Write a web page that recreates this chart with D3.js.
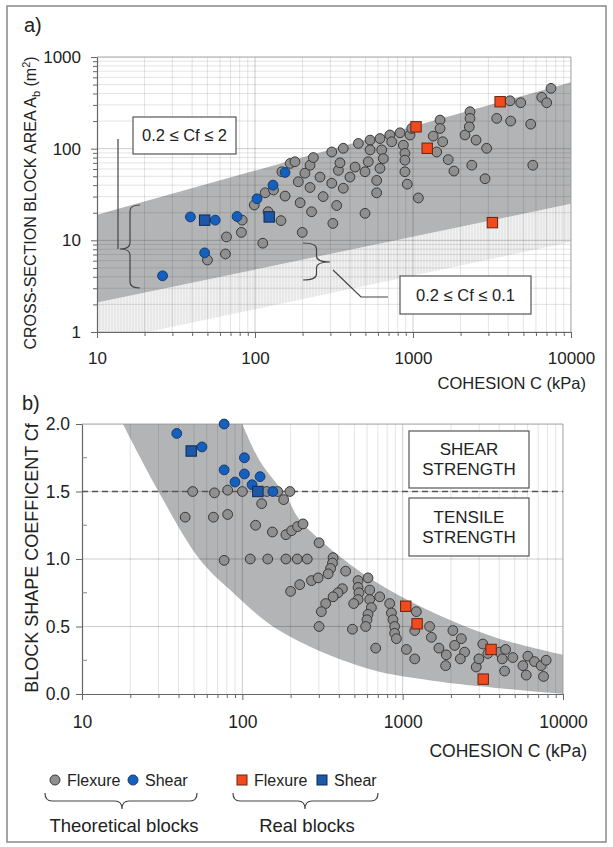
<!DOCTYPE html>
<html>
<head>
<meta charset="utf-8">
<script src="https://cdn.jsdelivr.net/npm/d3@7"></script>
<style>
body { margin: 0; background: #fff; }
svg { font-family: "Liberation Sans", Arial, sans-serif; }
</style>
</head>
<body>
<svg id="fig" width="613" height="847"></svg>
<script>
// ---- data: panel a) cohesion C (kPa) vs cross-section area Ab (m2)
const topTheoFlexure = [
  [50,6.1],[65,7.1],[66,10.9],[82,12.2],[83,16.6],[112,9.3],[99,24.3],[116,33],[121,20.5],[146,16.4],
  [155,30.4],[193,25.7],[199,12.2],[131,35.4],[148,56],[167,69],[179,72],[188,43.6],[207,54],[223,66],
  [234,80],[228,20.5],[223,37.7],[258,49],[270,30],[306,42],[306,92],[329,24],[311,15.3],[337,58],
  [345,70],[362,101],[362,37],[399,49],[430,63],[451,114],[497,56],[497,19.7],[521,72],[535,124],
  [535,97],[589,33],[589,45],[618,129],[714,141],[733,119],[828,149],[869,109],[957,141],[981,166],
  [634,97],[649,78],[618,61],[889,89],[889,75],[889,56],[920,41],[1081,29],[1343,137],[1483,205],
  [1483,166],[1541,119],[1413,92],[1671,76],[1816,57],[2133,141],[2295,253],[2295,214],[2271,173],[2506,124],
  [2356,66],[2925,101],[2857,47],[3389,214],[4111,333],[4806,317],[4150,200],[5560,185],[5730,66],[6530,363],
  [7020,317],[7470,455]
];
const topTheoShear = [[39,18],[56,16.6],[77,18.2],[48,7.3],[26,4.1],[103,28.4],[130,40],[155,55]];
const topRealFlexure = [[1045,173],[1230,101],[3560,325],[3180,15.6]];
const topRealShear = [[48,16.6],[123,18]];

// band limits of panel a)  [C, Ab]
const bandCf02to2Upper = [[10,19],[10000,530]];
const bandCf02to2Lower = [[10,2.1],[10000,25]];
const bandCf01Lower = [[10,1],[21,1],[10000,9.6]];

// ---- data: panel b) cohesion C (kPa) vs block shape coefficient Cf
const botTheoFlexure = [
  [49,1.50],[67,1.49],[81,1.51],[100,1.50],[142,1.50],[166,1.50],[198,1.50],[132,1.41],[181,1.44],[44,1.31],
  [66,1.31],[81,1.33],[121,1.25],[154,1.20],[187,1.18],[203,1.21],[221,1.24],[239,1.26],[77,0.99],[112,1.0],
  [144,1.0],[187,1.0],[220,1.0],[254,1.0],[200,0.76],[301,1.12],[368,1.01],[365,0.97],[355,0.93],[343,0.89],
  [441,0.91],[270,0.84],[297,0.86],[527,0.84],[608,0.86],[527,0.79],[534,0.75],[527,0.70],[495,0.67],[623,0.77],
  [623,0.70],[638,0.64],[608,0.59],[599,0.55],[588,0.50],[228,0.81],[421,0.78],[395,0.75],[368,0.72],[331,0.67],
  [311,0.61],[301,0.50],[486,0.48],[719,0.72],[830,0.67],[851,0.60],[870,0.55],[891,0.50],[891,0.45],[914,0.41],
  [1217,0.61],[1189,0.47],[1472,0.50],[1510,0.42],[679,0.34],[1055,0.33],[1189,0.26],[2057,0.47],[2322,0.41],[2109,0.36],
  [1683,0.34],[1871,0.29],[1853,0.21],[2434,0.31],[2289,0.26],[2877,0.20],[2988,0.26],[3163,0.37],[3398,0.30],[4019,0.31],
  [4385,0.33],[4179,0.26],[4866,0.27],[4323,0.17],[5620,0.21],[6040,0.28],[5900,0.14],[6640,0.24],[7310,0.21],[7850,0.25],
  [7560,0.13]
];
const botTheoShear = [[39,1.93],[77,2.0],[56,1.83],[103,1.75],[77,1.66],[103,1.63],[90,1.57],[115,1.55],[129,1.61],[155,1.50]];
const botRealFlexure = [[1045,0.65],[1230,0.52],[3560,0.33],[3180,0.11]];
const botRealShear = [[48,1.80],[125,1.50]];

// band limits of panel b)  [C, Cf]
const bandBotUpper = [[100,2.0],[128,1.73],[189,1.46],[228,1.29],[470,0.96],[950,0.73],[1960,0.55],[4000,0.41],[10000,0.29]];
const bandBotLower = [[18,2.0],[30,1.5],[54,1.0],[84,0.77],[170,0.47],[560,0.2],[1500,0.1],[10000,0.0]];

const failureLimitCf = 1.5;

// ---- styles
const C_GRAY = "#8f8f8f", C_BLUE = "#1560bd", C_ORANGE = "#f04a1f", C_BAND = "#b3b4b6";

const svg = d3.select("#fig");
const defs = svg.append("defs");

const hatch = defs.append("pattern").attr("id", "hatch")
  .attr("patternUnits", "userSpaceOnUse").attr("width", 3).attr("height", 3);
hatch.append("rect").attr("width", 3).attr("height", 3).attr("fill", "#f2f2f2");
hatch.append("line").attr("x1", 1).attr("x2", 1).attr("y1", 0).attr("y2", 3)
  .attr("stroke", "#dedede").attr("stroke-width", 1);

// outer frame
svg.append("rect").attr("x", 7).attr("y", 6).attr("width", 599).attr("height", 836)
  .attr("fill", "none").attr("stroke", "#888").attr("stroke-width", 1.5);

function logMinor(lo, hi) {
  const v = [];
  for (let d = lo; d < hi; d *= 10) for (let k = 1; k < 10; k++) v.push(d * k);
  v.push(hi);
  return v;
}
function isMajor(v) {
  const l = Math.log10(v);
  return Math.abs(l - Math.round(l)) < 1e-6;
}

function drawPoints(g, data, x, y, kind, color, size) {
  if (kind === "circle") {
    g.append("g").selectAll("circle").data(data).join("circle")
      .attr("cx", d => x(d[0])).attr("cy", d => y(d[1])).attr("r", size)
      .attr("fill", color).attr("stroke", color === C_GRAY ? "#383838" : "#173a6e").attr("stroke-width", 1);
  } else {
    g.append("g").selectAll("rect").data(data).join("rect")
      .attr("x", d => x(d[0]) - size).attr("y", d => y(d[1]) - size)
      .attr("width", size * 2).attr("height", size * 2)
      .attr("fill", color).attr("stroke", color === C_ORANGE ? "#6b2410" : "#0f2a55").attr("stroke-width", 1);
  }
}

function styleAxis(g) {
  g.select(".domain").attr("stroke", "#666").attr("stroke-width", 1.2);
  g.selectAll(".tick line").attr("stroke", "#666");
  g.selectAll(".tick text").attr("fill", "#222").attr("font-family", "Liberation Sans, Arial, sans-serif");
}

// ================= panel a)
const xTop = d3.scaleLog().domain([10, 10000]).range([97, 571]);
const yTop = d3.scaleLog().domain([1, 1000]).range([332, 57]);

defs.append("clipPath").attr("id", "clipTop").append("rect")
  .attr("x", 97).attr("y", 57).attr("width", 474).attr("height", 275);

const gTop = svg.append("g");
const gTopPlot = gTop.append("g").attr("clip-path", "url(#clipTop)");

const lineTop = d3.line().x(d => xTop(d[0])).y(d => yTop(d[1]));
// light band 0.2 <= Cf <= 0.1 (below the wide band)
gTopPlot.append("path")
  .attr("d", lineTop(bandCf02to2Lower.concat(bandCf01Lower.slice().reverse())) + "Z")
  .attr("fill", "url(#hatch)");
// dark band 0.2 <= Cf <= 2
gTopPlot.append("path")
  .attr("d", lineTop(bandCf02to2Upper.concat(bandCf02to2Lower.slice().reverse())) + "Z")
  .attr("fill", C_BAND);

// grid
const xGridVals = logMinor(10, 10000);
const yGridVals = logMinor(1, 1000);
gTopPlot.append("g").selectAll("line").data(xGridVals).join("line")
  .attr("x1", d => xTop(d)).attr("x2", d => xTop(d)).attr("y1", 57).attr("y2", 332)
  .attr("stroke", "#000").attr("stroke-opacity", d => isMajor(d) ? 0.2 : 0.11);
gTopPlot.append("g").selectAll("line").data(yGridVals).join("line")
  .attr("y1", d => yTop(d)).attr("y2", d => yTop(d)).attr("x1", 97).attr("x2", 571)
  .attr("stroke", "#000").attr("stroke-opacity", d => isMajor(d) ? 0.2 : 0.11);

gTop.append("path").attr("d", "M97,57H571V332").attr("fill", "none").attr("stroke", "#aaa");

const axTopX = gTop.append("g").attr("transform", `translate(0,${yTop(1)})`)
  .call(d3.axisBottom(xTop).tickValues(xGridVals)
    .tickFormat(d => isMajor(d) ? d3.format("d")(d) : "").tickSizeOuter(0).tickPadding(14));
axTopX.selectAll(".tick line").attr("y2", d => isMajor(d) ? 6 : 4);
axTopX.selectAll(".tick text").attr("font-size", 17);
styleAxis(axTopX);

const axTopY = gTop.append("g").attr("transform", `translate(${xTop(10)},0)`)
  .call(d3.axisLeft(yTop).tickValues(yGridVals)
    .tickFormat(d => isMajor(d) ? d3.format("d")(d) : "").tickSizeOuter(0).tickPadding(10));
axTopY.selectAll(".tick line").attr("x2", d => isMajor(d) ? -6 : -4);
axTopY.selectAll(".tick text").attr("font-size", 17);
styleAxis(axTopY);

drawPoints(gTop, topTheoFlexure, xTop, yTop, "circle", C_GRAY, 4.9);
drawPoints(gTop, topTheoShear, xTop, yTop, "circle", C_BLUE, 4.9);
drawPoints(gTop, topRealShear, xTop, yTop, "square", "#1d57a8", 5.2);
drawPoints(gTop, topRealFlexure, xTop, yTop, "square", C_ORANGE, 5.2);

// annotations panel a)
function vBrace(xa, y1, y2, xt, yt) {
  const xm = (xa + xt) / 2, r = 6;
  return `M${xa},${y1} Q${xm},${y1} ${xm},${y1 + r} L${xm},${yt - r} Q${xm},${yt} ${xt},${yt}` +
         ` Q${xm},${yt} ${xm},${yt + r} L${xm},${y2 - r} Q${xm},${y2} ${xa},${y2}`;
}
function hBrace(x1, x2, ya, xt, yt) {
  const ym = (ya + yt) / 2, r = 7;
  return `M${x1},${ya} Q${x1},${ym} ${x1 + r},${ym} L${xt - r},${ym} Q${xt},${ym} ${xt},${yt}` +
         ` Q${xt},${ym} ${xt + r},${ym} L${x2 - r},${ym} Q${x2},${ym} ${x2},${ya}`;
}
const ann = svg.append("g").attr("fill", "none").attr("stroke", "#444").attr("stroke-width", 1.2);
ann.append("path").attr("d", vBrace(140, 205, 288, 120, 249));
ann.append("path").attr("d", "M118,139V249");
ann.append("path").attr("d", vBrace(303, 243, 280, 330, 262));
ann.append("path").attr("d", "M333,270L361,297H388");

function labelBox(x, y, w, h, lines, fs) {
  svg.append("rect").attr("x", x).attr("y", y).attr("width", w).attr("height", h)
    .attr("fill", "#fff").attr("stroke", "#555").attr("stroke-width", 1.2);
  const lh = fs * 1.18;
  lines.forEach((t, i) => {
    svg.append("text").attr("x", x + w / 2)
      .attr("y", y + h / 2 + (i - (lines.length - 1) / 2) * lh)
      .attr("dy", "0.35em").attr("text-anchor", "middle").attr("font-size", fs).attr("fill", "#222").text(t);
  });
}
labelBox(133, 117, 103, 37, ["0.2 \u2264 Cf \u2264 2"], 16.5);
labelBox(400, 276, 131, 38, ["0.2 \u2264 Cf \u2264 0.1"], 16.5);

svg.append("text").attr("x", 24).attr("y", 32).attr("font-size", 20).attr("fill", "#222").text("a)");

const yLabTop = svg.append("text").attr("transform", "translate(36,203) rotate(-90)")
  .attr("text-anchor", "middle").attr("font-size", 16).attr("fill", "#222");
yLabTop.append("tspan").text("CROSS-SECTION BLOCK AREA A");
yLabTop.append("tspan").attr("font-size", 11).attr("dy", 4).text("b");
yLabTop.append("tspan").attr("dy", -4).text(" (m");
yLabTop.append("tspan").attr("font-size", 11).attr("dy", -6).text("2");
yLabTop.append("tspan").attr("dy", 6).text(")");

svg.append("text").attr("x", 586).attr("y", 389).attr("text-anchor", "end")
  .attr("font-size", 16.5).attr("fill", "#222").text("COHESION C (kPa)");

// ================= panel b)
const xBot = d3.scaleLog().domain([10, 10000]).range([82, 563]);
const yBot = d3.scaleLinear().domain([0, 2]).range([694, 424]);

defs.append("clipPath").attr("id", "clipBot").append("rect")
  .attr("x", 82).attr("y", 424).attr("width", 481).attr("height", 270);

const gBot = svg.append("g");
const gBotPlot = gBot.append("g").attr("clip-path", "url(#clipBot)");

const lineBot = d3.line().x(d => xBot(d[0])).y(d => yBot(d[1])).curve(d3.curveCatmullRom);
const bandPath = lineBot(bandBotUpper) + "L" + lineBot(bandBotLower.slice().reverse()).slice(1) + "Z";
gBotPlot.append("path").attr("d", bandPath).attr("fill", C_BAND);

gBotPlot.append("g").selectAll("line").data(xGridVals).join("line")
  .attr("x1", d => xBot(d)).attr("x2", d => xBot(d)).attr("y1", 424).attr("y2", 694)
  .attr("stroke", "#000").attr("stroke-opacity", d => isMajor(d) ? 0.2 : 0.11);
gBotPlot.append("g").selectAll("line").data([0.5, 1, 1.5, 2]).join("line")
  .attr("y1", d => yBot(d)).attr("y2", d => yBot(d)).attr("x1", 82).attr("x2", 563)
  .attr("stroke", "#000").attr("stroke-opacity", 0.2);

gBot.append("path").attr("d", "M82,424H563V694").attr("fill", "none").attr("stroke", "#aaa");

const axBotX = gBot.append("g").attr("transform", `translate(0,${yBot(0)})`)
  .call(d3.axisBottom(xBot).tickValues(xGridVals)
    .tickFormat(d => isMajor(d) ? d3.format("d")(d) : "").tickSizeOuter(0).tickPadding(16));
axBotX.selectAll(".tick line").attr("y2", d => isMajor(d) ? 6 : 4);
axBotX.selectAll(".tick text").attr("font-size", 17.5);
styleAxis(axBotX);

const axBotY = gBot.append("g").attr("transform", `translate(${xBot(10)},0)`)
  .call(d3.axisLeft(yBot).tickValues([0, 0.5, 1, 1.5, 2]).tickFormat(d3.format(".1f"))
    .tickSizeOuter(0).tickSizeInner(6).tickPadding(6));
axBotY.selectAll(".tick text").attr("font-size", 17.5);
styleAxis(axBotY);
gBot.append("g").selectAll("line").data([0.25, 0.75, 1.25, 1.75]).join("line")
  .attr("x1", 82).attr("x2", 87).attr("y1", d => yBot(d)).attr("y2", d => yBot(d)).attr("stroke", "#888");

// limit between shear and tensile strength
gBot.append("line").attr("x1", 82).attr("x2", 563)
  .attr("y1", yBot(failureLimitCf)).attr("y2", yBot(failureLimitCf))
  .attr("stroke", "#555").attr("stroke-width", 1.5).attr("stroke-dasharray", "6,4");

drawPoints(gBot, botTheoFlexure, xBot, yBot, "circle", C_GRAY, 4.9);
drawPoints(gBot, botTheoShear, xBot, yBot, "circle", C_BLUE, 4.9);
drawPoints(gBot, botRealShear, xBot, yBot, "square", "#1d57a8", 5.2);
drawPoints(gBot, botRealFlexure, xBot, yBot, "square", C_ORANGE, 5.2);

labelBox(409, 431, 120, 57, ["SHEAR", "STRENGTH"], 17);
labelBox(409, 498, 120, 58, ["TENSILE", "STRENGTH"], 17);

svg.append("text").attr("x", 22).attr("y", 410).attr("font-size", 20).attr("fill", "#222").text("b)");

svg.append("text").attr("transform", "translate(38,558) rotate(-90)")
  .attr("text-anchor", "middle").attr("font-size", 18).attr("fill", "#222")
  .text("BLOCK SHAPE COEFFICENT Cf");

svg.append("text").attr("x", 587).attr("y", 757).attr("text-anchor", "end")
  .attr("font-size", 17.5).attr("fill", "#222").text("COHESION C (kPa)");

// ================= legend
const leg = svg.append("g").attr("font-size", 16).attr("fill", "#222");
const legItems = [
  { x: 55, kind: "circle", color: C_GRAY, label: "Flexure" },
  { x: 133, kind: "circle", color: C_BLUE, label: "Shear" },
  { x: 242, kind: "square", color: C_ORANGE, label: "Flexure" },
  { x: 322, kind: "square", color: "#1d57a8", label: "Shear" }
];
legItems.forEach(it => {
  if (it.kind === "circle") {
    leg.append("circle").attr("cx", it.x).attr("cy", 780).attr("r", 5)
      .attr("fill", it.color).attr("stroke", it.color === C_GRAY ? "#383838" : "#173a6e");
  } else {
    leg.append("rect").attr("x", it.x - 5).attr("y", 775).attr("width", 10).attr("height", 10)
      .attr("fill", it.color).attr("stroke", it.color === C_ORANGE ? "#6b2410" : "#0f2a55");
  }
  leg.append("text").attr("x", it.x + 12).attr("y", 786).text(it.label);
});
ann.append("path").attr("d", hBrace(45, 197, 793, 122, 809));
ann.append("path").attr("d", hBrace(233, 378, 793, 305, 809));
svg.append("text").attr("x", 124).attr("y", 832).attr("text-anchor", "middle")
  .attr("font-size", 18.5).attr("fill", "#222").text("Theoretical blocks");
svg.append("text").attr("x", 307).attr("y", 832).attr("text-anchor", "middle")
  .attr("font-size", 18.5).attr("fill", "#222").text("Real blocks");
</script>
</body>
</html>
